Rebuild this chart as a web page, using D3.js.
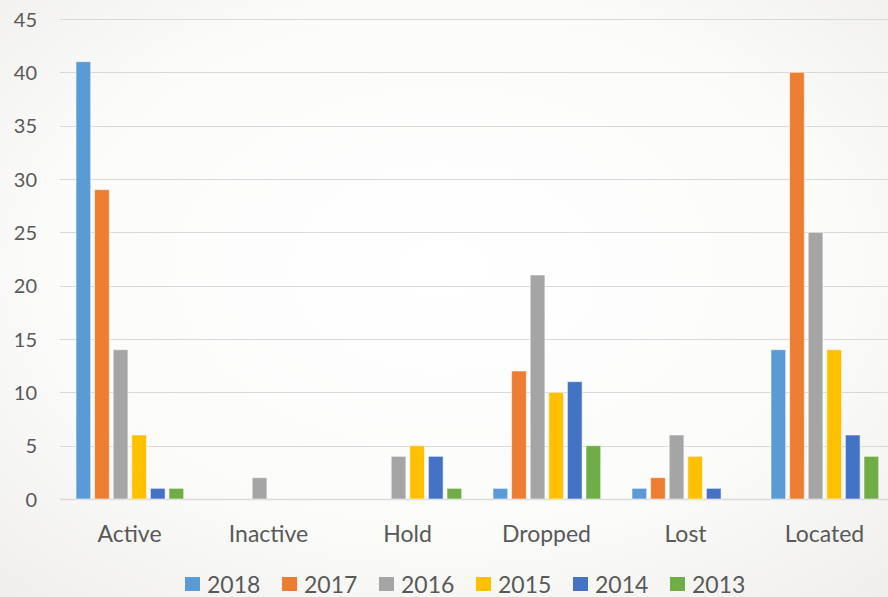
<!DOCTYPE html>
<html>
<head>
<meta charset="utf-8">
<script src="https://cdn.jsdelivr.net/npm/d3@7"></script>
<style>
  html, body { margin: 0; padding: 0; background: #fff; }
  svg { display: block; }
  text { font-family: Lato, "Open Sans", sans-serif; fill: #595959; }
</style>
</head>
<body>
<svg id="chart" width="888" height="597"></svg>
<script>
const categories = ['Active', 'Inactive', 'Hold', 'Dropped', 'Lost', 'Located'];
const years = ['2018', '2017', '2016', '2015', '2014', '2013'];
const values2018 = [41, 0, 0, 1, 1, 14];
const values2017 = [29, 0, 0, 12, 2, 40];
const values2016 = [14, 2, 4, 21, 6, 25];
const values2015 = [6, 0, 5, 10, 4, 14];
const values2014 = [1, 0, 4, 11, 1, 6];
const values2013 = [1, 0, 1, 5, 0, 4];
const yTicks = [0, 5, 10, 15, 20, 25, 30, 35, 40, 45];
const colors = ['#5B9BD5', '#ED7D31', '#A5A5A5', '#FFC000', '#4472C4', '#70AD47'];

drawChart();

function drawChart() {
    const W = 888, H = 597;
    const plot = { left: 60, right: 894, top: 19, bottom: 499 };
    const seriesValues = [values2018, values2017, values2016, values2015, values2014, values2013];
    const svg = d3.select('#chart');

    // Soft radial background like the office chart style
    const defs = svg.append('defs');
    const grad = defs.append('radialGradient')
        .attr('id', 'bg')
        .attr('cx', '50%').attr('cy', '45%').attr('r', '75%');
    grad.append('stop').attr('offset', '0%').attr('stop-color', '#ffffff');
    grad.append('stop').attr('offset', '60%').attr('stop-color', '#fbfbfa');
    grad.append('stop').attr('offset', '100%').attr('stop-color', '#efeeec');
    svg.append('rect').attr('width', W).attr('height', H).attr('fill', 'url(#bg)');

    const x0 = d3.scaleBand().domain(categories).range([plot.left, plot.right]);
    const x1 = d3.scaleBand()
        .domain(years)
        .range([16, 123.7])
        .paddingInner(0.21);
    const y = d3.scaleLinear().domain([0, 45]).range([plot.bottom, plot.top]);
    const color = d3.scaleOrdinal(years, colors);

    // Grid
    svg.append('g')
        .attr('class', 'grid')
        .selectAll('line')
        .data(yTicks)
        .enter()
        .append('line')
        .attr('x1', plot.left)
        .attr('x2', W)
        .attr('y1', (d) => Math.round(y(d)) + 0.5)
        .attr('y2', (d) => Math.round(y(d)) + 0.5)
        .attr('stroke', '#d9d9d9')
        .attr('stroke-width', (d) => d === 0 ? 1.5 : 1.2);

    // Y axis labels
    const yAxis = d3.axisLeft(y).tickValues(yTicks).tickSize(0).tickPadding(0);
    const yg = svg.append('g')
        .attr('transform', 'translate(37,0)')
        .call(yAxis);
    yg.select('.domain').remove();
    yg.selectAll('text')
        .attr('font-size', 20)
        .attr('font-family', null)
        .attr('fill', '#595959')
        .attr('dy', '0.36em');

    // Bars
    const rows = [];
    years.forEach((yr, si) => {
        categories.forEach((cat, ci) => {
            rows.push({ year: yr, cat: cat, value: seriesValues[si][ci] });
        });
    });
    svg.append('g')
        .selectAll('rect')
        .data(rows.filter((d) => d.value > 0))
        .enter()
        .append('rect')
        .attr('x', (d) => x0(d.cat) + x1(d.year))
        .attr('y', (d) => y(d.value))
        .attr('width', x1.bandwidth())
        .attr('height', (d) => y(0) - y(d.value))
        .attr('fill', (d) => color(d.year))
        .attr('stroke', '#ffffff')
        .attr('stroke-opacity', 0.55)
        .attr('stroke-width', 1);

    // Category labels
    const xAxis = d3.axisBottom(x0).tickSize(0).tickPadding(0);
    const xg = svg.append('g')
        .attr('transform', 'translate(0,' + 524 + ')')
        .call(xAxis);
    xg.select('.domain').remove();
    xg.selectAll('text')
        .attr('font-size', 23)
        .attr('font-family', null)
        .attr('fill', '#595959')
        .attr('dy', '0.78em');

    // Legend
    const legend = svg.append('g')
        .attr('transform', 'translate(185,577)')
        .selectAll('g')
        .data(years)
        .enter()
        .append('g')
        .attr('transform', (d, i) => 'translate(' + i * 97 + ',0)');
    legend.append('rect')
        .attr('width', 15)
        .attr('height', 14)
        .attr('fill', (d) => color(d));
    legend.append('text')
        .attr('x', 22)
        .attr('y', 16)
        .attr('font-size', 23)
        .text((d) => d);
}
</script>
</body>
</html>
